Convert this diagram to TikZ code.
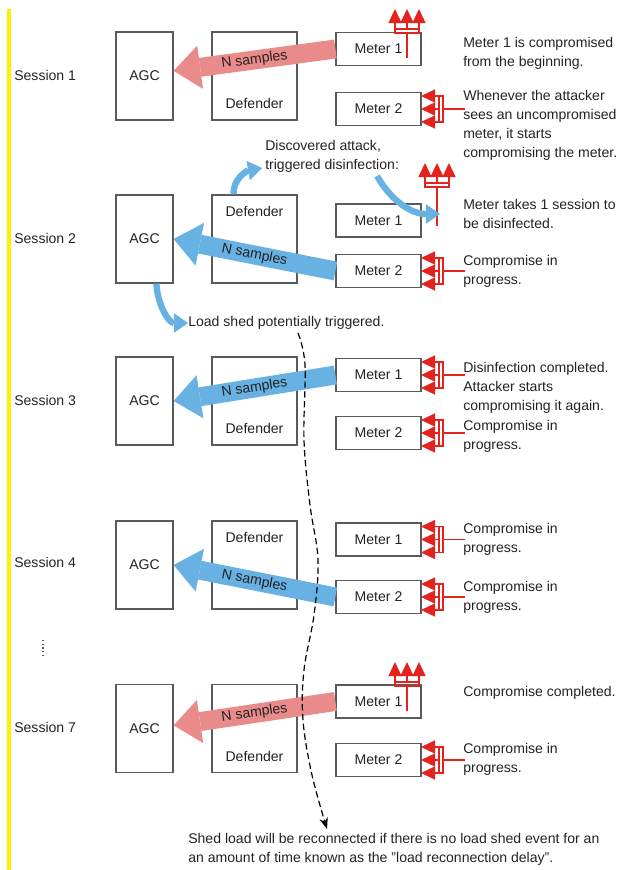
\documentclass[tikz,border=0pt]{standalone}
\usepackage{fontspec}
\setmainfont{Liberation Sans}
\usetikzlibrary{arrows.meta}

\definecolor{sampred}{RGB}{234,139,139}
\definecolor{sampblue}{RGB}{104,177,227}
\definecolor{atkred}{RGB}{228,35,30}
\definecolor{boxgray}{RGB}{90,90,90}
\definecolor{txtgray}{RGB}{35,35,35}
\definecolor{hiyellow}{RGB}{255,240,0}

\begin{document}
\begin{tikzpicture}[x=0.025cm,y=-0.025cm,
    every node/.style={text=txtgray,font=\fontsize{10}{13.5}\selectfont},
    blk/.style={draw=boxgray,fill=white,line width=0.85pt,inner sep=0pt},
    agcbox/.style={blk,minimum width=1.425cm,minimum height=2.2cm},
    defbox/.style={blk,minimum width=2.125cm,minimum height=2.2cm},
    meterbox/.style={blk,minimum width=2.125cm,minimum height=0.825cm},
    note/.style={anchor=west,align=left,inner sep=0pt},
    redsamples/.style={sampred,line width=13.5pt,-{Triangle[length=19pt,width=31pt,line width=0pt]}},
    bluesamples/.style={sampblue,line width=13.5pt,-{Triangle[length=19pt,width=31pt,line width=0pt]}},
    flow/.style={sampblue,line width=4.5pt,-{Triangle[length=10pt,width=14pt,line width=0pt]}},
    atk/.style={atkred,line width=1.3pt},
    atkarrow/.style={atk,-{Triangle[length=10pt,width=9.5pt,line width=0pt]}},
    sidetrident/.pic={
      \draw[atk] (0,0) -- (-22,0);
      \draw[atkred,line width=0.8pt] (-26,-13) rectangle (-22,13);
      \draw[atkarrow] (-26,-13) -- (-44,-13);
      \draw[atkarrow] (-26,0) -- (-44,0);
      \draw[atkarrow] (-26,13) -- (-44,13);
    },
    uptrident/.pic={
      \draw[atk] (0,0) -- (0,-#1);
      \draw[atkred,line width=0.8pt] (-12,-#1) rectangle (12,-#1-4);
      \draw[atkarrow] (-12,-#1-4) -- (-12,-#1-24);
      \draw[atkarrow] (0,-#1-4) -- (0,-#1-24);
      \draw[atkarrow] (12,-#1-4) -- (12,-#1-24);
    }]
  \useasboundingbox (0,0) rectangle (630,870);
  \fill[hiyellow] (7,9) rectangle (11,870);

  % session 1
  \node[note] (s1) at (14,75) {Session 1};
  \node[agcbox] (agc1) at (144.5,76) {AGC};
  \node[defbox] (def1) at (254.5,76) {};
  \node (def1t) at ([yshift=0.425cm]def1.south) {Defender};
  \node[meterbox] (m1a) at (378.5,49) {Meter 1};
  \node[meterbox] (m2a) at (378.5,109) {Meter 2};
  \draw[redsamples] (m1a.west) -- (agc1.10) node[midway,sloped] {N samples};
  \pic at (407,58) {uptrident=25};
  \pic at (465,109) {sidetrident};
  \node[note] (n1) at (463,53) {Meter 1 is compromised\\from the beginning.};
  \node[note] (n2) at (463,125) {Whenever the attacker\\sees an uncompromised\\meter, it starts\\compromising the meter.};

  % session 2
  \node[note] (s2) at (14,238) {Session 2};
  \node[agcbox] (agc2) at (144.5,239) {AGC};
  \node[defbox] (def2) at (254.5,239) {};
  \node (def2t) at ([yshift=-0.425cm]def2.north) {Defender};
  \node[meterbox] (m1b) at (378.5,220.5) {Meter 1};
  \node[meterbox] (m2b) at (378.5,271) {Meter 2};
  \draw[bluesamples] (m2b.west) -- (agc2.east) node[midway,sloped] {N samples};
  \pic at (437,226) {uptrident=39};
  \pic at (465,271) {sidetrident};
  \node[note] (disc) at (265,156) {Discovered attack,\\triggered disinfection:};
  \coordinate (disctip) at (262,168);
  \coordinate (discfrom) at (377,176);
  \coordinate (curetip) at (440,214);
  \draw[flow] (def2.115) to[out=95,in=190] (disctip);
  \draw[flow] (discfrom) to[out=-60,in=180] (curetip);
  \node[note] (n3) at (463,214) {Meter takes 1 session to\\be disinfected.};
  \node[note] (n4) at (463,271) {Compromise in\\progress.};
  \node[note] (lshed) at (188,323) {Load shed potentially triggered.};
  \draw[flow] (agc2.-75) to[out=-88,in=180] (lshed.west);

  % session 3
  \node[note] (s3) at (14,400) {Session 3};
  \node[agcbox] (agc3) at (144.5,401) {AGC};
  \node[defbox] (def3) at (254.5,401) {};
  \node (def3t) at ([yshift=0.425cm]def3.south) {Defender};
  \node[meterbox] (m1c) at (378.5,375) {Meter 1};
  \node[meterbox] (m2c) at (378.5,433) {Meter 2};
  \draw[bluesamples] (m1c.west) -- (agc3.east) node[midway,sloped] {N samples};
  \pic at (465,375) {sidetrident};
  \pic at (465,433) {sidetrident};
  \node[note] (n5) at (463,387.5) {Disinfection completed.\\Attacker starts\\compromising it again.};
  \node[note] (n6) at (463,436.5) {Compromise in\\progress.};

  % session 4
  \node[note] (s4) at (14,562) {Session 4};
  \node[agcbox] (agc4) at (144.5,565) {AGC};
  \node[defbox] (def4) at (254.5,565) {};
  \node (def4t) at ([yshift=-0.425cm]def4.north) {Defender};
  \node[meterbox] (m1d) at (378.5,539.5) {Meter 1};
  \node[meterbox] (m2d) at (378.5,597) {Meter 2};
  \draw[bluesamples] (m2d.west) -- (agc4.east) node[midway,sloped] {N samples};
  \pic at (465,539.5) {sidetrident};
  \pic at (465,597) {sidetrident};
  \node[note] (n7) at (463,539) {Compromise in\\progress.};
  \node[note] (n8) at (463,597) {Compromise in\\progress.};

  \draw[boxgray,line width=0.9pt,dash pattern=on 1pt off 1.6pt] (43,640) -- (43,657);

  % session 7
  \node[note] (s7) at (14,727) {Session 7};
  \node[agcbox] (agc5) at (144.5,728.5) {AGC};
  \node[defbox] (def5) at (254.5,728.5) {};
  \node (def5t) at ([yshift=0.425cm]def5.south) {Defender};
  \node[meterbox] (m1e) at (378.5,701.5) {Meter 1};
  \node[meterbox] (m2e) at (378.5,760) {Meter 2};
  \draw[redsamples] (m1e.west) -- (agc5.6) node[midway,sloped] {N samples};
  \pic at (407,711) {uptrident=25};
  \pic at (465,760) {sidetrident};
  \node[note] (n9) at (463,693) {Compromise completed.};
  \node[note] (n10) at (463,759.5) {Compromise in\\progress.};

  % reconnection
  \node[note] (n11) at (188,849) {Shed load will be reconnected if there is no load shed event for an\\an amount of time known as the "load reconnection delay".};
  \coordinate (shedmark) at (298,333);
  \coordinate (reconnect) at (327,829);
  \draw[black,line width=0.85pt,dash pattern=on 4.5pt off 2.5pt,-{Stealth[length=8pt,width=6pt]}]
    plot[smooth,tension=0.6] coordinates {(shedmark) (305,365) (304,440) (310,505) (318,560) (314,615) (304,670) (303,720) (312,775) (reconnect)};
\end{tikzpicture}
\end{document}
